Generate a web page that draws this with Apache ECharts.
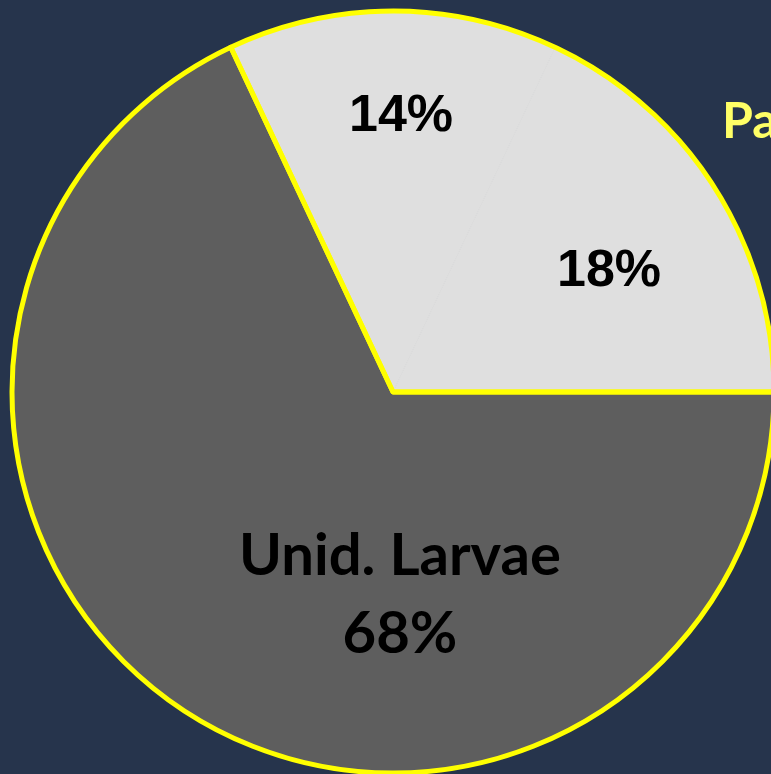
<!DOCTYPE html>
<html>
<head>
<meta charset="utf-8">
<script src="https://cdn.jsdelivr.net/npm/echarts@6/dist/echarts.min.js"></script>
<style>
  html, body { margin: 0; padding: 0; background: #26344c; }
  #chart { width: 771px; height: 774px; }
</style>
</head>
<body>
<div id="chart"></div>
<script>
var categories = ['Other A', 'Other B', 'Unid. Larvae'];
var values = [14, 18, 68];
var sliceColors = ['#dfdfdf', '#dfdfdf', '#5e5e5e'];
// where each label sits on the slide (hand placed in the original)
var labelSpots = [[401, 117], [609, 272], [400, 595]];

var chart = echarts.init(document.getElementById('chart'));

var lightTotal = values[0] + values[1];

var option = {
    backgroundColor: '#26344c',
    animation: false,
    series: [
        {
            type: 'pie',
            center: [393, 392],
            radius: 381,
            startAngle: 115.2,
            clockwise: true,
            silent: true,
            data: categories.map(function (c, i) {
                return {
                    name: c,
                    value: values[i],
                    // border in fill colour hides the seam between the light slices
                    itemStyle: { color: sliceColors[i], borderColor: sliceColors[i], borderWidth: 1 },
                    label: i === 2 ? {
                        formatter: '{big|{b}\n{c}%}'
                    } : {
                        formatter: '{small|{c}%}'
                    }
                };
            }),
            label: {
                show: true,
                position: 'inside',
                color: '#000',
                rich: {
                    small: {
                        fontFamily: 'Liberation Sans',
                        fontWeight: 'bold',
                        fontSize: 52,
                        color: '#000'
                    },
                    big: {
                        fontFamily: 'Lato',
                        fontWeight: 'bold',
                        fontSize: 58,
                        lineHeight: 78,
                        color: '#000'
                    }
                }
            },
            labelLine: { show: false },
            labelLayout: function (p) {
                var s = labelSpots[p.dataIndex];
                return { x: s[0], y: s[1], align: 'center', verticalAlign: 'middle' };
            }
        },
        {
            // yellow outline: light group shares one border
            type: 'pie',
            center: [393, 392],
            radius: 381,
            startAngle: 115.2,
            silent: true,
            z: 3,
            data: [
                { name: 'light', value: lightTotal },
                { name: 'dark', value: values[2] }
            ],
            itemStyle: { color: 'rgba(0,0,0,0)', borderColor: '#ffff00', borderWidth: 5 },
            label: { show: false },
            labelLine: { show: false }
        }
    ],
    graphic: [
        {
            type: 'text',
            left: 722,
            top: 97,
            style: {
                text: 'Pa',
                fill: '#ffff66',
                font: 'bold 50px Lato'
            }
        }
    ]
};

chart.setOption(option);
window.addEventListener('resize', chart.resize);
</script>
</body>
</html>
